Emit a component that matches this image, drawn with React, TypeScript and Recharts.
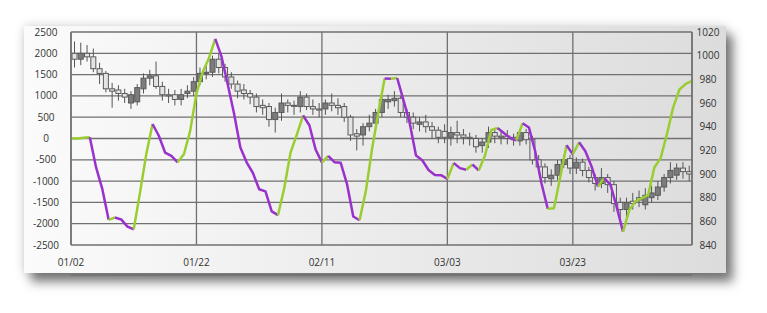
import React from "react"
import { ComposedChart, Bar, Line, XAxis, YAxis, CartesianGrid } from "recharts"

// indicator line, one value per day (left axis)
const lineValues = [
  0, 0, 15, 30, -680, -1190, -1910, -1855, -1900, -2070,
  -2130, -1270, -370, 340, 65, -330, -410, -560, -370, 180,
  1060, 1560, 1890, 2340, 1920, 1260, 580, -210, -560, -810,
  -1190, -1240, -1710, -1800, -1160, -330, 90, 540, 310, -260,
  -565, -410, -555, -570, -1070, -1830, -1920, -1240, -240, 610,
  1410, 1400, 1420, 900, 360, -400, -510, -740, -855, -860,
  -950, -575, -695, -735, -610, -750, -400, 200, 245, 130,
  10, -40, 360, 260, -300, -1050, -1650, -1640, -900, -160,
  -370, -90, -300, -660, -1130, -930, -1080, -1610, -2190, -1680,
  -1470, -1400, -1330, -680, -460, 100, 730, 1150, 1280, 1350,
]

// daily candles (right axis)
const opens = [
  1002, 997, 1002, 999, 989, 985, 972, 971, 968, 960,
  961, 972, 981, 983, 974, 967, 967, 963, 968, 970,
  978, 985, 986, 997, 990, 982, 976, 971, 968, 965,
  958, 957, 946, 952, 960, 958, 957, 965, 957, 955,
  955, 960, 958, 957, 948, 934, 933, 940, 943, 952,
  961, 962, 964, 952, 948, 942, 944, 940, 937, 936,
  931, 935, 933, 931, 930, 924, 927, 935, 932, 932,
  931, 928, 935, 929, 912, 906, 896, 899, 908, 913,
  905, 910, 903, 897, 892, 897, 891, 876, 870, 877,
  880, 874, 880, 882, 889, 897, 899, 905, 902,
]
const closes = [
  997, 1002, 999, 989, 985, 972, 970, 968, 965, 967,
  973, 981, 983, 974, 967, 966, 963, 967, 970, 978,
  985, 986, 997, 990, 982, 976, 970, 968, 965, 957,
  956, 946, 952, 960, 958, 958, 965, 957, 955, 954,
  960, 958, 956, 948, 933, 932, 940, 943, 952, 963,
  963, 964, 952, 948, 943, 944, 940, 937, 931, 931,
  935, 933, 931, 930, 923, 927, 935, 932, 931, 930,
  929, 935, 929, 912, 906, 897, 899, 908, 912, 905,
  910, 903, 897, 892, 897, 891, 875, 870, 876, 875,
  878, 882, 884, 889, 897, 903, 905, 902, 900,
]
const highs = [
  1012, 1011, 1009, 1006, 994, 987, 977, 975, 972, 970,
  976, 985, 988, 995, 978, 972, 971, 972, 975, 982,
  990, 993, 1000, 1002, 993, 986, 979, 976, 971, 968,
  963, 960, 956, 968, 963, 962, 970, 968, 963, 960,
  963, 968, 964, 960, 950, 938, 943, 950, 955, 968,
  967, 970, 966, 955, 952, 948, 950, 944, 940, 942,
  940, 945, 938, 935, 933, 930, 940, 938, 936, 937,
  934, 938, 938, 932, 916, 909, 904, 912, 916, 916,
  914, 913, 906, 900, 905, 900, 894, 880, 880, 884,
  886, 888, 890, 894, 900, 910, 909, 910, 907,
]
const lows = [
  990, 992, 995, 986, 976, 969, 956, 962, 960, 955,
  958, 968, 975, 972, 962, 960, 958, 958, 964, 966,
  975, 980, 982, 985, 978, 972, 964, 963, 959, 952,
  950, 940, 935, 945, 952, 950, 952, 954, 950, 948,
  950, 953, 950, 944, 928, 920, 924, 936, 940, 948,
  955, 957, 948, 943, 938, 936, 935, 930, 926, 926,
  924, 926, 925, 924, 918, 918, 922, 926, 925, 925,
  924, 924, 925, 908, 900, 892, 890, 895, 905, 900,
  900, 898, 893, 886, 888, 884, 868, 862, 858, 870,
  872, 870, 876, 878, 885, 892, 895, 896, 894,
]

const xTicks = [0, 20, 40, 60, 80]
const xTickLabels = ["01/02", "01/22", "02/11", "03/03", "03/23"]
const leftTicks = [-2500, -2000, -1500, -1000, -500, 0, 500, 1000, 1500, 2000, 2500]
const rightTicks = [840, 860, 880, 900, 920, 940, 960, 980, 1000, 1020]

const UP_COLOR = "#9ACD32"
const DOWN_COLOR = "#9932CC"
const GRID = "#707070"
const FONT = "'Open Sans', sans-serif"

// split the line into runs of rising / falling segments
const runs: { start: number; end: number; up: boolean }[] = []
for (let j = 0; j < lineValues.length - 1; j++) {
  const up = lineValues[j + 1] >= lineValues[j]
  const last = runs[runs.length - 1]
  if (last && last.up === up) last.end = j + 1
  else runs.push({ start: j, end: j + 1, up })
}

const data = lineValues.map((v, j) => {
  const row: any = {
    day: j,
    cday: j + 0.5,
    open: opens[j],
    close: closes[j],
    high: highs[j],
    low: lows[j],
  }
  runs.forEach((r, k) => {
    row[`s${k}`] = j >= r.start && j <= r.end ? v : null
  })
  return row
})

function Candle(props: any) {
  const { x, y, width, height, payload } = props
  if (payload.open == null || height == null || isNaN(y)) return null
  const top = Math.min(y, y + height)
  const h = Math.abs(height)
  const range = payload.high - payload.low || 1
  const yOf = (v: number) => top + ((payload.high - v) / range) * h
  const yo = yOf(payload.open)
  const yc = yOf(payload.close)
  const bodyTop = Math.min(yo, yc)
  const bodyH = Math.max(Math.abs(yo - yc), 1)
  const rising = payload.close > payload.open
  const cx = x + width / 2
  return (
    <g>
      <line x1={cx} x2={cx} y1={top} y2={top + h} stroke="#555" strokeWidth={1} />
      <rect
        x={x}
        y={bodyTop}
        width={width}
        height={bodyH}
        fill={rising ? "#7c7c7c" : "#e4e4e4"}
        stroke="#5a5a5a"
        strokeWidth={1}
      />
    </g>
  )
}

const LeftTick = ({ x, y, payload }: any) => (
  <text x={x - 25} y={y} dy="0.355em" textAnchor="middle" fontSize={10} fontFamily={FONT} fill="#333">
    {payload.value}
  </text>
)

const RightTick = ({ x, y, payload }: any) => (
  <text x={x + 16} y={y} dy="0.355em" textAnchor="middle" fontSize={10} fontFamily={FONT} fill="#333">
    {payload.value}
  </text>
)

const BottomTick = ({ x, y, payload }: any) => (
  <text x={x} y={y - 13} dy="0.355em" textAnchor="middle" fontSize={10} fontFamily={FONT} fill="#333">
    {xTickLabels[xTicks.indexOf(payload.value)]}
  </text>
)

export default function App() {
  return (
    <div style={{ position: "absolute", left: 0, top: 0, width: 767, height: 313 }}>
      <div
        style={{
          position: "absolute",
          left: 24,
          top: 26,
          width: 702,
          height: 247,
          background: "linear-gradient(to right, #fbfbfb, #dcdcdc)",
          boxShadow: "0 0 10px rgba(0,0,0,0.18), 7px 9px 10px rgba(0,0,0,0.5)",
        }}
      />
      <div style={{ position: "absolute", left: 0, top: 0 }}>
        <ComposedChart
          width={767}
          height={313}
          data={data}
          margin={{ top: 32, right: 35, left: 0, bottom: 38 }}
        >
          <CartesianGrid
            xAxisId="d"
            yAxisId="left"
            stroke={GRID}
            strokeWidth={1.3}
            fill="none"
          />
          <XAxis
            xAxisId="d"
            type="number"
            dataKey="day"
            domain={[0, 99]}
            ticks={xTicks}
            interval={0}
            tick={<BottomTick />}
            tickLine={false}
            tickSize={0}
            tickMargin={0}
            axisLine={{ stroke: GRID, strokeWidth: 1.5 }}
            height={30}
          />
          <XAxis
            xAxisId="c"
            type="number"
            dataKey="cday"
            domain={[0, 99]}
            allowDataOverflow
            hide
          />
          <YAxis
            yAxisId="left"
            domain={[-2500, 2500]}
            ticks={leftTicks}
            interval={0}
            tick={<LeftTick />}
            tickLine={false}
            tickSize={0}
            tickMargin={0}
            axisLine={{ stroke: GRID, strokeWidth: 1.5 }}
            width={71}
          />
          <YAxis
            yAxisId="right"
            orientation="right"
            domain={[840, 1020]}
            ticks={rightTicks}
            interval={0}
            tick={<RightTick />}
            tickLine={false}
            tickSize={0}
            tickMargin={0}
            axisLine={{ stroke: GRID, strokeWidth: 1.5 }}
            width={40}
          />
          <Bar
            xAxisId="c"
            yAxisId="right"
            dataKey={(d: any) => [d.low, d.high]}
            barSize={5}
            shape={<Candle />}
            isAnimationActive={false}
          />
          {runs.map((r, k) => (
            <Line
              key={k}
              xAxisId="d"
              yAxisId="left"
              type="linear"
              dataKey={`s${k}`}
              stroke={r.up ? UP_COLOR : DOWN_COLOR}
              strokeWidth={2.5}
              strokeLinejoin="round"
              dot={false}
              activeDot={false}
              connectNulls={false}
              isAnimationActive={false}
            />
          ))}
        </ComposedChart>
      </div>
    </div>
  )
}
